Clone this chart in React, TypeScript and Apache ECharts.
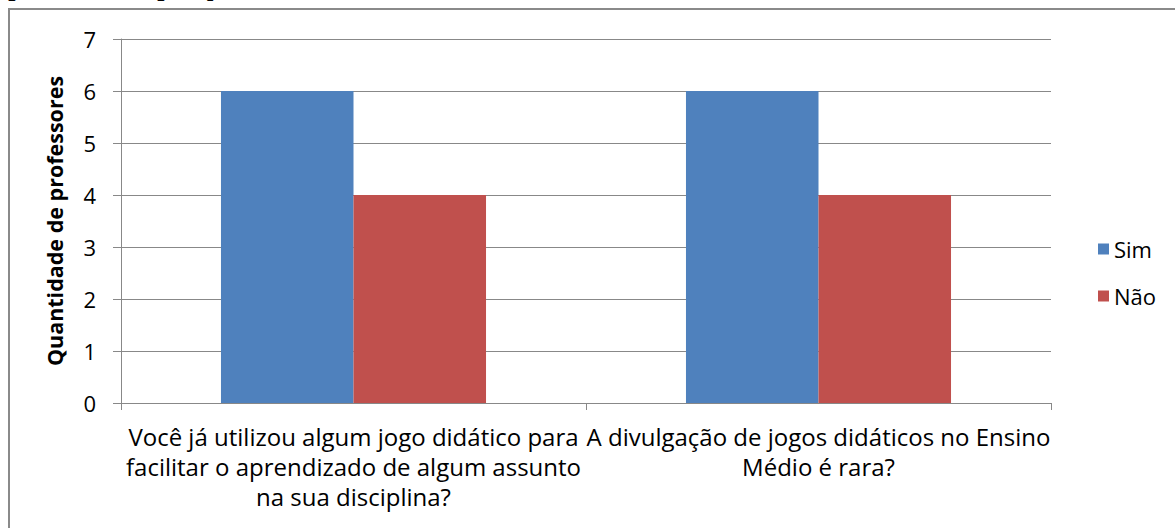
import React, { useEffect, useRef } from "react";
import * as echarts from "echarts";

const categories = [
  "Você já utilizou algum jogo didático para\nfacilitar o aprendizado de algum assunto\nna sua disciplina?",
  "A divulgação de jogos didáticos no Ensino\nMédio é rara?",
];
const simValues = [6, 6];
const naoValues = [4, 4];
const seriesNames = ["Sim", "Não"];
const yAxisName = "Quantidade de professores";
const topText = "professores pesquisados.";

const FONT = "Open Sans";

export default function App() {
  const ref = useRef<HTMLDivElement>(null);
  useEffect(() => {
    if (!ref.current) return;
    const chart = echarts.init(ref.current, undefined, { renderer: "svg" });
    chart.setOption({
      animation: false,
      backgroundColor: "#ffffff",
      textStyle: { fontFamily: FONT },
      graphic: [
        {
          type: "rect",
          shape: { x: 9, y: 9, width: 1200, height: 600 },
          style: { fill: "none", stroke: "#8a8a8a", lineWidth: 2 },
          silent: true,
        },
        {
          type: "text",
          x: 8,
          y: -1,
          style: {
            text: topText,
            font: "31px 'Liberation Serif'",
            fill: "#000",
            verticalAlign: "bottom",
          },
        },
      ],
      grid: { left: 121, right: 124, top: 39, bottom: 125, containLabel: false },
      legend: {
        orient: "vertical",
        left: 1093,
        top: 233,
        itemWidth: 11,
        itemHeight: 11,
        itemGap: 25,
        icon: "rect",
        textStyle: { fontFamily: FONT, fontSize: 22, color: "#000" },
        data: seriesNames,
      },
      xAxis: {
        type: "category",
        data: categories,
        axisLine: { lineStyle: { color: "#888", width: 1 } },
        axisTick: { show: true, length: 7, lineStyle: { color: "#888" } },
        axisLabel: {
          fontFamily: FONT,
          fontSize: 24,
          color: "#000",
          lineHeight: 30,
          margin: 18,
          interval: 0,
        },
      },
      yAxis: {
        type: "value",
        min: 0,
        max: 7,
        interval: 1,
        name: yAxisName,
        nameLocation: "middle",
        nameGap: 56,
        nameTextStyle: { fontFamily: FONT, fontSize: 21.5, fontWeight: "bold", color: "#000" },
        axisLine: { show: true, lineStyle: { color: "#888" } },
        axisTick: { show: true, length: 8, lineStyle: { color: "#888" } },
        axisLabel: { fontFamily: FONT, fontSize: 22, color: "#000", margin: 25 },
        splitLine: { lineStyle: { color: "#888", width: 1 } },
      },
      series: [
        {
          name: seriesNames[0],
          type: "bar",
          data: simValues,
          itemStyle: { color: "#4F81BD" },
          barGap: "0%",
          barCategoryGap: "43%",
        },
        {
          name: seriesNames[1],
          type: "bar",
          data: naoValues,
          itemStyle: { color: "#C0504D" },
          barGap: "0%",
          barCategoryGap: "43%",
        },
      ],
    });
    return () => chart.dispose();
  }, []);
  return (
    <div
      ref={ref}
      style={{ position: "fixed", left: 0, top: 0, width: 1175, height: 528 }}
    />
  );
}
